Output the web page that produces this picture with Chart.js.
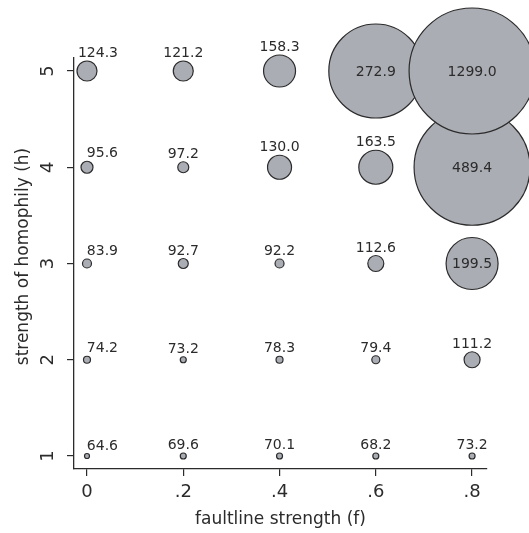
<!DOCTYPE html>
<html>
<head>
<meta charset="utf-8">
<script src="https://cdn.jsdelivr.net/npm/chart.js@4.4.1/dist/chart.umd.min.js"></script>
<style>
  html, body { margin: 0; padding: 0; background: #ffffff; }
  canvas { display: block; }
</style>
</head>
<body>
<canvas id="bubbleChart" width="529" height="533"></canvas>
<script>
// === DATA ===
const faultline = [0, 0.2, 0.4, 0.6, 0.8];
const homophily = [1, 2, 3, 4, 5];
const xTickLabels = ["0", ".2", ".4", ".6", ".8"];
const yTickLabels = ["1", "2", "3", "4", "5"];

// mean value for each homophily row (h = 1..5), one entry per faultline column
const meanH1 = [64.6, 69.6, 70.1, 68.2, 73.2];
const meanH2 = [74.2, 73.2, 78.3, 79.4, 111.2];
const meanH3 = [83.9, 92.7, 92.2, 112.6, 199.5];
const meanH4 = [95.6, 97.2, 130.0, 163.5, 489.4];
const meanH5 = [124.3, 121.2, 158.3, 272.9, 1299.0];

// bubble weight (radius)
const weightH1 = [2.5, 3, 3, 3, 3];
const weightH2 = [3.5, 3, 3.5, 4, 8];
const weightH3 = [4.5, 5, 4.5, 8, 26];
const weightH4 = [6, 5.5, 12, 17, 58];
const weightH5 = [10, 10, 16, 47, 63];

const means = [meanH1, meanH2, meanH3, meanH4, meanH5];
const weights = [weightH1, weightH2, weightH3, weightH4, weightH5];

// === STYLE ===
const FONT = "'DejaVu Sans', sans-serif";
const INK = "#2b2b2b";
const BUBBLE_FILL = "#abadb4";

// === POINTS ===
const points = [];
homophily.forEach((h, row) => {
    faultline.forEach((f, col) => {
        points.push({ x: f, y: h, r: weights[row][col], v: means[row][col] });
    });
});

// === VALUE LABELS ===
const valueLabels = {
    id: "valueLabels",
    afterDatasetsDraw(chart) {
        const ctx = chart.ctx;
        const meta = chart.getDatasetMeta(0);
        ctx.save();
        ctx.font = "14px " + FONT;
        ctx.fillStyle = INK;
        meta.data.forEach((el, i) => {
            const p = points[i];
            const txt = p.v.toFixed(1);
            if (p.r > 20) {
                ctx.textAlign = "center";
                ctx.textBaseline = "middle";
                ctx.fillText(txt, el.x, el.y + 1);
            } else {
                ctx.textBaseline = "alphabetic";
                if (p.x === 0) {
                    ctx.textAlign = "right";
                    ctx.fillText(txt, el.x + 31, el.y - p.r - 4);
                } else {
                    ctx.textAlign = "center";
                    ctx.fillText(txt, el.x, el.y - p.r - 4);
                }
            }
        });
        ctx.restore();
    }
};

// === ROTATED Y TICK LABELS AND Y TITLE ===
const rotatedYTexts = {
    id: "rotatedYTexts",
    afterDraw(chart) {
        const ctx = chart.ctx;
        const yScale = chart.scales.y;
        ctx.save();
        ctx.fillStyle = INK;
        ctx.textAlign = "center";
        ctx.textBaseline = "middle";
        ctx.font = "18px " + FONT;
        homophily.forEach((h, i) => {
            ctx.save();
            ctx.translate(48, yScale.getPixelForValue(h));
            ctx.rotate(-Math.PI / 2);
            ctx.fillText(yTickLabels[i], 0, 0);
            ctx.restore();
        });
        ctx.font = "17px " + FONT;
        ctx.translate(24, (yScale.top + yScale.bottom) / 2 - 7);
        ctx.rotate(-Math.PI / 2);
        ctx.fillText("strength of homophily (h)", 0, 0);
        ctx.restore();
    }
};

new Chart(document.getElementById("bubbleChart"), {
    type: "bubble",
    data: {
        datasets: [{
            data: points,
            backgroundColor: BUBBLE_FILL,
            borderColor: INK,
            borderWidth: 1.2,
            hoverRadius: 0,
            clip: false
        }]
    },
    options: {
        responsive: false,
        animation: false,
        events: [],
        layout: { autoPadding: false, padding: { top: 58, right: 42, left: 0, bottom: 0 } },
        plugins: {
            legend: { display: false },
            tooltip: { enabled: false }
        },
        scales: {
            x: {
                type: "linear",
                min: -0.027,
                max: 0.831,
                afterBuildTicks: (scale) => { scale.ticks = faultline.map(v => ({ value: v })); },
                afterFit: (scale) => { scale.height = 64; },
                ticks: {
                    callback: (v) => xTickLabels[faultline.indexOf(v)],
                    font: { family: FONT, size: 18 },
                    color: INK,
                    padding: 6,
                    maxRotation: 0
                },
                grid: { drawOnChartArea: false, drawTicks: true, tickLength: 7, color: INK, lineWidth: 1.2 },
                border: { color: INK, width: 1.3 },
                title: {
                    display: true,
                    text: "faultline strength (f)",
                    font: { family: FONT, size: 17 },
                    color: INK,
                    padding: { top: 0, bottom: 3 }
                }
            },
            y: {
                type: "linear",
                min: 0.865,
                max: 5.135,
                afterBuildTicks: (scale) => { scale.ticks = homophily.map(v => ({ value: v })); },
                afterFit: (scale) => { scale.width = 74; },
                ticks: {
                    callback: (v) => yTickLabels[homophily.indexOf(v)],
                    font: { family: FONT, size: 18 },
                    color: "rgba(0,0,0,0)"
                },
                grid: { drawOnChartArea: false, drawTicks: true, tickLength: 7, color: INK, lineWidth: 1.2 },
                border: { color: INK, width: 1.3 },
                title: { display: false }
            }
        }
    },
    plugins: [valueLabels, rotatedYTexts]
});
</script>
</body>
</html>
